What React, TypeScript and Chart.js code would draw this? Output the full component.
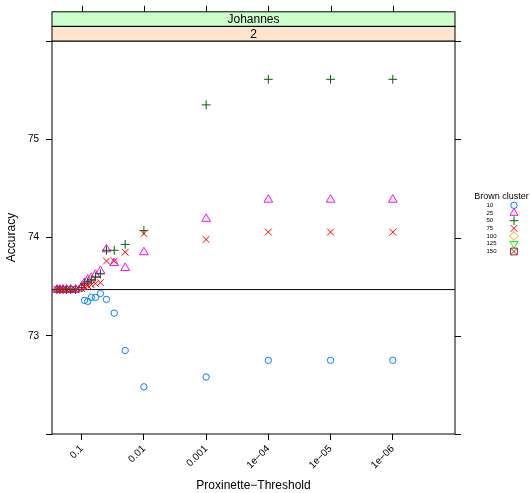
import React, { useEffect, useRef } from "react";
import { Chart, registerables } from "chart.js";

Chart.register(...registerables);

// ---------- data ----------
const thresholds = [0.25, 0.225, 0.2, 0.175, 0.15, 0.125, 0.1, 0.09, 0.08, 0.07, 0.06, 0.05, 0.04, 0.03, 0.02, 0.01, 0.001, 1e-4, 1e-5, 1e-6];

const acc10 = [73.47, 73.47, 73.47, 73.47, 73.47, 73.47, 73.485, 73.36, 73.35, 73.39, 73.39, 73.43, 73.37, 73.23, 72.85, 72.48, 72.58, 72.75, 72.75, 72.75];
const acc25 = [73.47, 73.47, 73.47, 73.47, 73.47, 73.47, 73.5, 73.54, 73.57, 73.59, 73.62, 73.66, 73.88, 73.74, 73.69, 73.85, 74.19, 74.385, 74.385, 74.385];
const acc50 = [73.47, 73.47, 73.47, 73.47, 73.47, 73.47, 73.49, 73.53, 73.55, 73.57, 73.6, 73.63, 73.87, 73.87, 73.93, 74.07, 75.35, 75.61, 75.61, 75.61];
const acc75 = [73.47, 73.47, 73.47, 73.47, 73.47, 73.47, 73.48, 73.5, 73.51, 73.52, 73.53, 73.54, 73.76, 73.76, 73.85, 74.04, 73.98, 74.055, 74.055, 74.055];

const groups = ["10", "25", "50", "75", "100", "125", "150"];
const groupColors = ["#0080ff", "#ff00ff", "#006400", "#ff0000", "#ffa500", "#00ff00", "#a52a2a"];
const seriesValues = [acc10, acc25, acc50, acc75];

const baseline = 73.47;
const xTickValues = [0.1, 0.01, 0.001, 1e-4, 1e-5, 1e-6];
const xTickLabels = ["0.1", "0.01", "0.001", "1e\u221204", "1e\u221205", "1e\u221206"];
const yTickValues = [72, 73, 74, 75, 76];
const yTickLabels = ["", "73", "74", "75", ""];
const xLimits = [0.3, 1e-7];
const yLimits = [72, 76];

const stripOuter = "Johannes";
const stripInner = "2";
const legendTitle = "Brown cluster";
const xTitle = "Proxinette\u2212Threshold";
const yTitle = "Accuracy";

const FONT = "'Liberation Sans', Arial, Helvetica, sans-serif";

function drawSymbol(ctx: CanvasRenderingContext2D, pch: number, x: number, y: number, color: string) {
  ctx.save();
  ctx.strokeStyle = color;
  ctx.lineWidth = 1;
  ctx.beginPath();
  if (pch === 0) {
    ctx.arc(x, y, 3.2, 0, Math.PI * 2);
  } else if (pch === 1) {
    const r = 4.6;
    ctx.moveTo(x, y - r);
    ctx.lineTo(x + r * 0.866, y + r / 2);
    ctx.lineTo(x - r * 0.866, y + r / 2);
    ctx.closePath();
  } else if (pch === 2) {
    const r = 4.3;
    ctx.moveTo(x - r, y); ctx.lineTo(x + r, y);
    ctx.moveTo(x, y - r); ctx.lineTo(x, y + r);
  } else if (pch === 3) {
    const r = 3.4;
    ctx.moveTo(x - r, y - r); ctx.lineTo(x + r, y + r);
    ctx.moveTo(x - r, y + r); ctx.lineTo(x + r, y - r);
  } else if (pch === 4) {
    const r = 4.3;
    ctx.moveTo(x, y - r); ctx.lineTo(x + r, y); ctx.lineTo(x, y + r); ctx.lineTo(x - r, y);
    ctx.closePath();
  } else if (pch === 5) {
    const r = 4.6;
    ctx.moveTo(x, y + r);
    ctx.lineTo(x + r * 0.866, y - r / 2);
    ctx.lineTo(x - r * 0.866, y - r / 2);
    ctx.closePath();
  } else {
    const r = 3.4;
    ctx.rect(x - r, y - r, 2 * r, 2 * r);
    ctx.moveTo(x - r, y - r); ctx.lineTo(x + r, y + r);
    ctx.moveTo(x - r, y + r); ctx.lineTo(x + r, y - r);
  }
  ctx.stroke();
  ctx.restore();
}

const latticePlugin = {
  id: "latticeDecor",
  beforeDatasetsDraw(chart: any) {
    const { ctx, chartArea: a, scales } = chart;
    const y = scales.y.getPixelForValue(baseline);
    ctx.save();
    ctx.strokeStyle = "#000";
    ctx.lineWidth = 1;
    ctx.beginPath();
    ctx.moveTo(a.left, y);
    ctx.lineTo(a.right, y);
    ctx.stroke();
    ctx.restore();
  },
  afterDraw(chart: any) {
    const { ctx, chartArea: a, scales } = chart;
    ctx.save();
    ctx.strokeStyle = "#000";
    ctx.lineWidth = 1;
    // panel box
    ctx.strokeRect(a.left, a.top, a.right - a.left, a.bottom - a.top);
    // strips
    const sh = 14.6;
    const s1 = a.top - 2 * sh;
    const s2 = a.top - sh;
    ctx.fillStyle = "#ccffcc";
    ctx.fillRect(a.left, s1, a.right - a.left, sh);
    ctx.fillStyle = "#ffe5cc";
    ctx.fillRect(a.left, s2, a.right - a.left, sh);
    ctx.strokeRect(a.left, s1, a.right - a.left, sh);
    ctx.strokeRect(a.left, s2, a.right - a.left, sh);
    ctx.fillStyle = "#000";
    ctx.font = `12px ${FONT}`;
    ctx.textAlign = "center";
    ctx.textBaseline = "middle";
    const cx = (a.left + a.right) / 2;
    ctx.fillText(stripOuter, cx, s1 + sh / 2 + 0.5);
    ctx.fillText(stripInner, cx, s2 + sh / 2 + 0.5);
    // top ticks
    ctx.beginPath();
    for (const v of xTickValues) {
      const px = Math.round(scales.x.getPixelForValue(v)) + 0.5;
      ctx.moveTo(px, s1);
      ctx.lineTo(px, s1 - 6);
    }
    // right ticks
    for (const v of yTickValues) {
      const py = Math.round(scales.y.getPixelForValue(v)) + 0.5;
      ctx.moveTo(a.right, py);
      ctx.lineTo(a.right + 6, py);
    }
    ctx.stroke();
    // legend
    ctx.font = `9px ${FONT}`;
    ctx.textAlign = "center";
    ctx.fillText(legendTitle, 501.5, 196.5);
    ctx.font = `6px ${FONT}`;
    ctx.textAlign = "left";
    groups.forEach((g, i) => {
      const ly = 205.3 + 7.7 * i;
      ctx.fillStyle = "#000";
      ctx.fillText(g, 486.5, ly);
      drawSymbol(ctx, i, 514, ly, groupColors[i]);
    });
    ctx.restore();
  },
};

const pointStyles = ["circle", "triangle", "cross", "crossRot"];
const pointRadii = [3.2, 5, 4.4, 4.8];

export default function App() {
  const ref = useRef<HTMLCanvasElement | null>(null);
  useEffect(() => {
    if (!ref.current) return;
    Chart.defaults.font.family = FONT;
    const datasets = seriesValues.map((vals, i) => ({
      label: groups[i],
      data: thresholds.map((t, j) => ({ x: t, y: vals[j] })),
      pointStyle: pointStyles[i],
      pointRadius: pointRadii[i],
      pointBorderWidth: 1,
      borderColor: groupColors[i],
      backgroundColor: "rgba(0,0,0,0)",
      pointBackgroundColor: "rgba(0,0,0,0)",
      pointBorderColor: groupColors[i],
      showLine: false,
      order: seriesValues.length - i,
    }));
    const chart = new Chart(ref.current, {
      type: "scatter",
      data: { datasets },
      options: {
        responsive: false,
        maintainAspectRatio: false,
        devicePixelRatio: 1,
        animation: false,
        layout: { padding: { left: 0, top: 41, right: 76, bottom: 0 } },
        plugins: { legend: { display: false }, tooltip: { enabled: false } },
        scales: {
          x: {
            type: "logarithmic",
            reverse: true,
            bounds: "data",
            min: xLimits[1],
            max: xLimits[0],
            afterBuildTicks: (scale: any) => {
              scale.ticks = xTickValues.map((v) => ({ value: v }));
            },
            afterFit: (scale: any) => {
              scale.height = 59;
            },
            ticks: {
              autoSkip: false,
              minRotation: 45,
              maxRotation: 45,
              padding: 3,
              color: "#000",
              font: { size: 10, family: FONT },
              callback: (v: any) => {
                const i = xTickValues.findIndex((t) => Math.abs(Math.log10(t) - Math.log10(Number(v))) < 1e-6);
                return i >= 0 ? xTickLabels[i] : "";
              },
            },
            grid: { drawOnChartArea: false, drawTicks: true, tickLength: 6, color: "#000", lineWidth: 1 },
            border: { display: false },
            title: {
              display: true,
              text: xTitle,
              color: "#000",
              font: { size: 12, family: FONT },
              padding: { top: 0, bottom: 0 },
            },
          },
          y: {
            type: "linear",
            min: yLimits[0],
            max: yLimits[1],
            afterBuildTicks: (scale: any) => {
              scale.ticks = yTickValues.map((v) => ({ value: v }));
            },
            afterFit: (scale: any) => {
              scale.width = 52;
            },
            ticks: {
              autoSkip: false,
              padding: 7,
              color: "#000",
              font: { size: 10, family: FONT },
              callback: (v: any) => {
                const i = yTickValues.indexOf(Number(v));
                return i >= 0 ? yTickLabels[i] : "";
              },
            },
            grid: { drawOnChartArea: false, drawTicks: true, tickLength: 6, color: "#000", lineWidth: 1 },
            border: { display: false },
            title: {
              display: true,
              text: yTitle,
              color: "#000",
              font: { size: 12, family: FONT },
              padding: { top: 4, bottom: 0 },
            },
          },
        },
      },
      plugins: [latticePlugin],
    } as any);
    return () => chart.destroy();
  }, []);
  return (
    <div style={{ position: "absolute", left: 0, top: 0, width: 531, height: 493, background: "#fff" }}>
      <canvas ref={ref} width={531} height={493} style={{ display: "block", width: 531, height: 493 }} />
    </div>
  );
}
